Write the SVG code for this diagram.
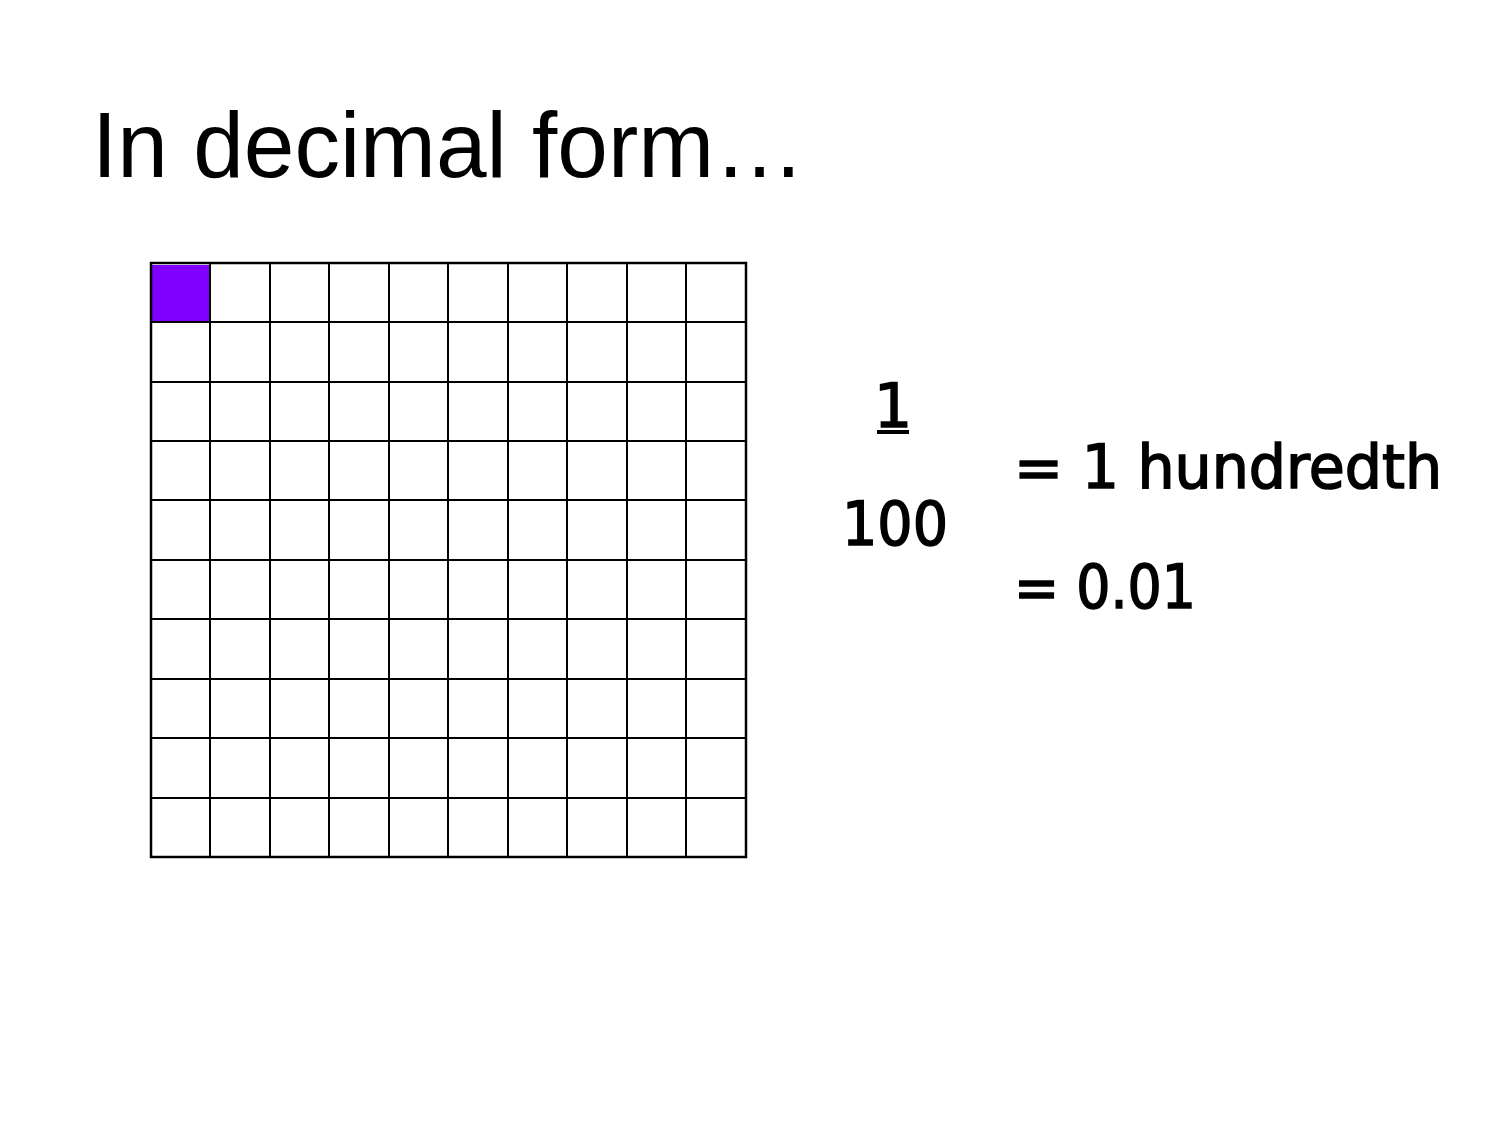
<svg xmlns="http://www.w3.org/2000/svg" width="1500" height="1125" viewBox="0 0 1500 1125">
<style>
.title{font-family:"Liberation Sans",Arial,sans-serif;font-size:92px;fill:#000}
.hand{font-family:"DejaVu Sans","Noto Sans",sans-serif;font-size:60px;fill:#000;stroke:#000;stroke-width:1.6}
.grid line{stroke:#000;stroke-width:2}
</style>
<rect width="1500" height="1125" fill="#fff"/>
<text class="title" x="92" y="177" textLength="713" lengthAdjust="spacingAndGlyphs">In decimal form…</text>
<g id="grid" class="grid">
<rect x="152" y="265" width="57" height="56" fill="#7F00FF"/>
<line x1="210" y1="263" x2="210" y2="857"/>
<line x1="270" y1="263" x2="270" y2="857"/>
<line x1="329" y1="263" x2="329" y2="857"/>
<line x1="389" y1="263" x2="389" y2="857"/>
<line x1="448" y1="263" x2="448" y2="857"/>
<line x1="508" y1="263" x2="508" y2="857"/>
<line x1="567" y1="263" x2="567" y2="857"/>
<line x1="627" y1="263" x2="627" y2="857"/>
<line x1="686" y1="263" x2="686" y2="857"/>
<line x1="151" y1="322" x2="746" y2="322"/>
<line x1="151" y1="382" x2="746" y2="382"/>
<line x1="151" y1="441" x2="746" y2="441"/>
<line x1="151" y1="500" x2="746" y2="500"/>
<line x1="151" y1="560" x2="746" y2="560"/>
<line x1="151" y1="619" x2="746" y2="619"/>
<line x1="151" y1="679" x2="746" y2="679"/>
<line x1="151" y1="738" x2="746" y2="738"/>
<line x1="151" y1="798" x2="746" y2="798"/>
<rect x="151" y="263" width="595" height="594" fill="none" stroke="#000" stroke-width="2.5"/>
</g>
<g id="fraction">
<text class="hand" x="893" y="427" text-anchor="middle">1</text>
<line x1="877" y1="432" x2="909" y2="432" stroke="#000" stroke-width="4"/>
<text class="hand" x="895" y="545" text-anchor="middle" textLength="106" lengthAdjust="spacingAndGlyphs">100</text>
</g>
<g id="equalities">
<text class="hand" x="1014" y="488" textLength="428" lengthAdjust="spacingAndGlyphs">= 1 hundredth</text>
<text class="hand" x="1014" y="608" textLength="182" lengthAdjust="spacingAndGlyphs">= 0.01</text>
</g>
</svg>
